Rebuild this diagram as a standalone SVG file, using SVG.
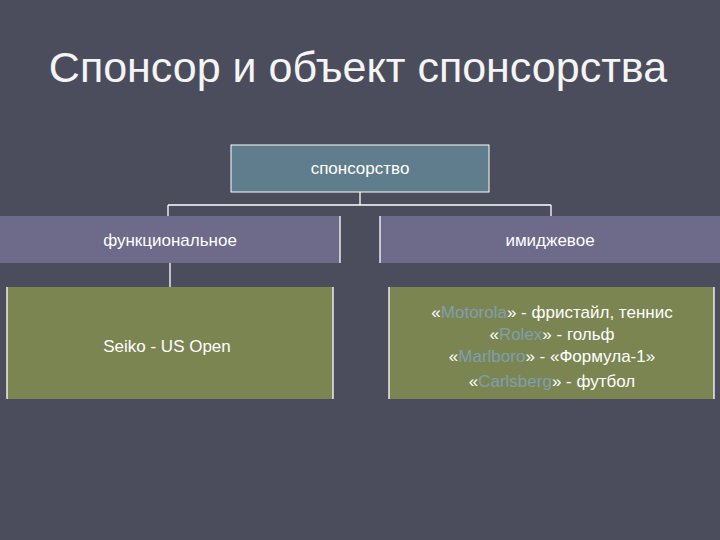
<svg xmlns="http://www.w3.org/2000/svg" width="720" height="540" viewBox="0 0 720 540">
<style>
text{font-family:"Liberation Sans",Arial,sans-serif;fill:#fff;text-anchor:middle}
.t{font-size:17px}
.b{fill:#7f9fae}
.ln{stroke:#fff;stroke-width:1.3;fill:none}
</style>
<rect width="720" height="540" fill="#4b4d5d"/>
<text x="358" y="82" style="font-size:43px;fill:#f4f4f4">Спонсор и объект спонсорства</text>
<g id="connectors">
<path class="ln" d="M360 192V205M168 205H551M168 205V216M551 205V216M170 263V287"/>
</g>
<g id="n-top"><rect x="231" y="145" width="258" height="47" fill="#5f7d8c" stroke="#fff" stroke-width="1"/><text class="t" x="360" y="174">спонсорство</text></g>
<g id="n-func"><rect x="0" y="216" width="340" height="47" fill="#6d6a8a"/><line class="ln" x1="340" y1="216" x2="340" y2="263"/><text class="t" x="170" y="246">функциональное</text></g>
<g id="n-img"><rect x="380" y="216" width="340" height="47" fill="#6d6a8a"/><line class="ln" x1="380" y1="216" x2="380" y2="263"/><text class="t" x="550" y="246">имиджевое</text></g>
<g id="n-seiko"><rect x="7" y="287" width="326" height="112" fill="#7b8552"/><path class="ln" d="M7 287V399M333 287V399"/><text class="t" x="167" y="352">Seiko  - US Open</text></g>
<g id="n-brands"><rect x="389" y="287" width="325" height="112" fill="#7b8552"/><path class="ln" d="M389 287V399M714 287V399"/>
<text class="t" x="552" y="318">«<tspan class="b">Motorola</tspan>» - фристайл, теннис</text>
<text class="t" x="552" y="340">«<tspan class="b">Rolex</tspan>» - гольф</text>
<text class="t" x="552" y="362">«<tspan class="b">Marlboro</tspan>» - «Формула-1»</text>
<text class="t" x="552" y="387">«<tspan class="b">Carlsberg</tspan>» - футбол</text>
</g>
</svg>
